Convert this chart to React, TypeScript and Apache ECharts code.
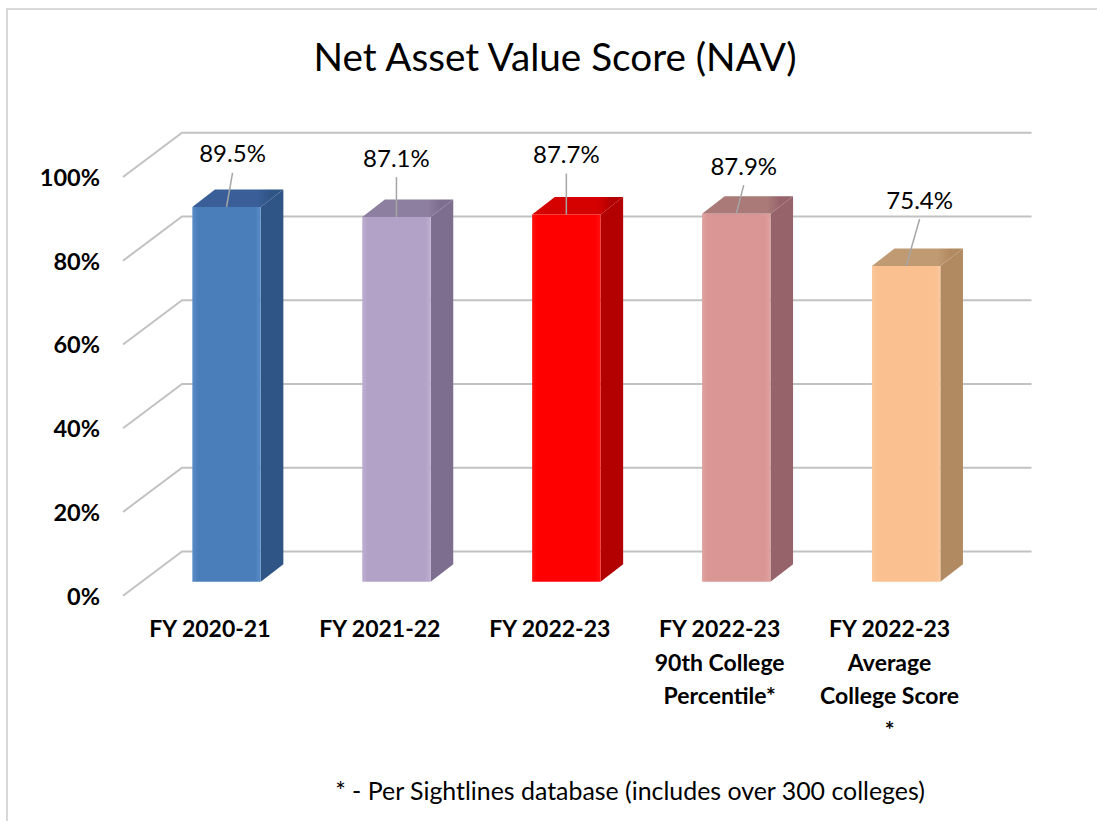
import React, { useEffect, useRef } from "react";
import * as echarts from "echarts";

const categories = [
  "FY 2020-21",
  "FY 2021-22",
  "FY 2022-23",
  "FY 2022-23\n90th College\nPercentile*",
  "FY 2022-23\nAverage\nCollege Score\n*",
];
const values = [89.5, 87.1, 87.7, 87.9, 75.4];
const wallTicks = [0, 20, 40, 60, 80, 100];
const frontColors = ["#4a7ebb", "#b3a2c7", "#ff0000", "#d99694", "#fac090"];
const edgeColors = ["#5a8cc6", "#bdaed0", "#ff1010", "#e0a2a0", "#fbc89c"];
const sideColors = ["#2f5486", "#7d6d8f", "#b30000", "#96636a", "#b28a62"];
const topColors = ["#3a5f98", "#8d7f9f", "#d50000", "#a97a78", "#bf9a72"];
// Leader-line end relative to the bar's front-top centre.
const leaderOffsets = [
  [6, -34],
  [0, -40],
  [0, -41],
  [7.5, -28.5],
  [13.5, -47],
];

const FONT = "Lato, 'Open Sans', sans-serif";
const WALL_DX = 59;
const WALL_DY = -44.3;
const BAR_DX = 18.6;
const BAR_DY = -14;
const SIDE_DX = 22.6;
const SIDE_DY = -17.5;
const BAR_WIDTH = 68.4;

export default function App() {
  const ref = useRef<HTMLDivElement>(null);
  useEffect(() => {
    const chart = echarts.init(ref.current!, undefined, { renderer: "svg" });
    chart.setOption({
      animation: false,
      backgroundColor: "#ffffff",
      title: {
        text: "Net Asset Value Score (NAV)",
        left: 550,
        top: 31,
        textAlign: "center",
        textStyle: { fontFamily: FONT, fontSize: 38.7, fontWeight: "normal", color: "#000000" },
      },
      graphic: [
        { type: "rect", shape: { x: 6, y: 8, width: 1091, height: 2 }, style: { fill: "#d9d9d9" } },
        { type: "rect", shape: { x: 6, y: 8, width: 2, height: 813 }, style: { fill: "#d9d9d9" } },
        {
          type: "text",
          x: 630,
          y: 790,
          style: {
            text: "* - Per Sightlines database (includes over 300 colleges)",
            align: "center",
            verticalAlign: "middle",
            fontFamily: FONT,
            fontSize: 24.9,
            fill: "#000000",
          },
        },
      ],
      grid: { left: 123, top: 177, width: 849.5, height: 418.7 },
      xAxis: {
        type: "category",
        data: categories,
        axisLine: { show: false },
        axisTick: { show: false },
        axisLabel: {
          interval: 0,
          margin: 16,
          fontFamily: FONT,
          fontSize: 23,
          fontWeight: "bold",
          color: "#000000",
          lineHeight: 33.5,
          verticalAlign: "top",
          padding: [0, 0, 0, 4],
        },
      },
      yAxis: {
        type: "value",
        min: 0,
        max: 100,
        interval: 20,
        axisLine: { show: false },
        axisTick: { show: false },
        splitLine: { show: false },
        axisLabel: {
          formatter: "{value}%",
          margin: 23,
          fontFamily: FONT,
          fontSize: 23.5,
          fontWeight: "bold",
          color: "#000000",
        },
      },
      series: [
        {
          type: "custom",
          silent: true,
          z: 1,
          data: wallTicks.map((v) => [0, v]),
          renderItem: (params: any, api: any) => {
            const cs = params.coordSys;
            const y = api.coord([0, api.value(1)])[1];
            return {
              type: "polyline",
              shape: {
                points: [
                  [cs.x, y],
                  [cs.x + WALL_DX, y + WALL_DY],
                  [cs.x + cs.width + WALL_DX, y + WALL_DY],
                ],
              },
              style: { fill: "none", stroke: "#c2c2c2", lineWidth: 2 },
            };
          },
        },
        {
          type: "custom",
          silent: true,
          z: 2,
          data: values.map((v, i) => [i, v]),
          renderItem: (params: any, api: any) => {
            const i = api.value(0);
            const value = api.value(1);
            const top = api.coord([i, value]);
            const bottom = api.coord([i, 0]);
            const x0 = top[0] - BAR_WIDTH / 2 + BAR_DX;
            const x1 = x0 + BAR_WIDTH;
            const yt = top[1] + BAR_DY;
            const yb = bottom[1] + BAR_DY;
            const cx = (x0 + x1) / 2;
            const [ldx, ldy] = leaderOffsets[i];
            return {
              type: "group",
              children: [
                {
                  type: "polygon",
                  shape: { points: [[x1, yt], [x1 + SIDE_DX, yt + SIDE_DY], [x1 + SIDE_DX, yb + SIDE_DY], [x1, yb]] },
                  style: { fill: sideColors[i] },
                },
                {
                  type: "polygon",
                  shape: { points: [[x0, yt], [x0 + SIDE_DX, yt + SIDE_DY], [x1 + SIDE_DX, yt + SIDE_DY], [x1, yt]] },
                  style: {
                    fill: new echarts.graphic.LinearGradient(0, 0, 1, 0, [
                      { offset: 0, color: topColors[i] },
                      { offset: 0.72, color: topColors[i] },
                      { offset: 0.86, color: sideColors[i] },
                      { offset: 1, color: sideColors[i] },
                    ]),
                  },
                },
                {
                  type: "rect",
                  shape: { x: x0, y: yt, width: BAR_WIDTH, height: yb - yt },
                  style: {
                    fill: new echarts.graphic.LinearGradient(0, 0, 1, 0, [
                      { offset: 0, color: edgeColors[i] },
                      { offset: 0.08, color: frontColors[i] },
                      { offset: 0.92, color: frontColors[i] },
                      { offset: 1, color: edgeColors[i] },
                    ]),
                  },
                },
                {
                  type: "line",
                  shape: { x1: cx, y1: yt, x2: cx + ldx, y2: yt + ldy },
                  style: { stroke: "#a6a6a6", lineWidth: 1.5 },
                },
                {
                  type: "text",
                  style: {
                    text: value.toFixed(1) + "%",
                    x: cx + ldx,
                    y: yt + ldy - 20,
                    align: "center",
                    verticalAlign: "middle",
                    fontFamily: FONT,
                    fontSize: 24,
                    fill: "#000000",
                  },
                },
              ],
            };
          },
        },
      ],
    });
    return () => chart.dispose();
  }, []);
  return <div ref={ref} style={{ position: "fixed", left: 0, top: 0, width: 1097, height: 821 }} />;
}
